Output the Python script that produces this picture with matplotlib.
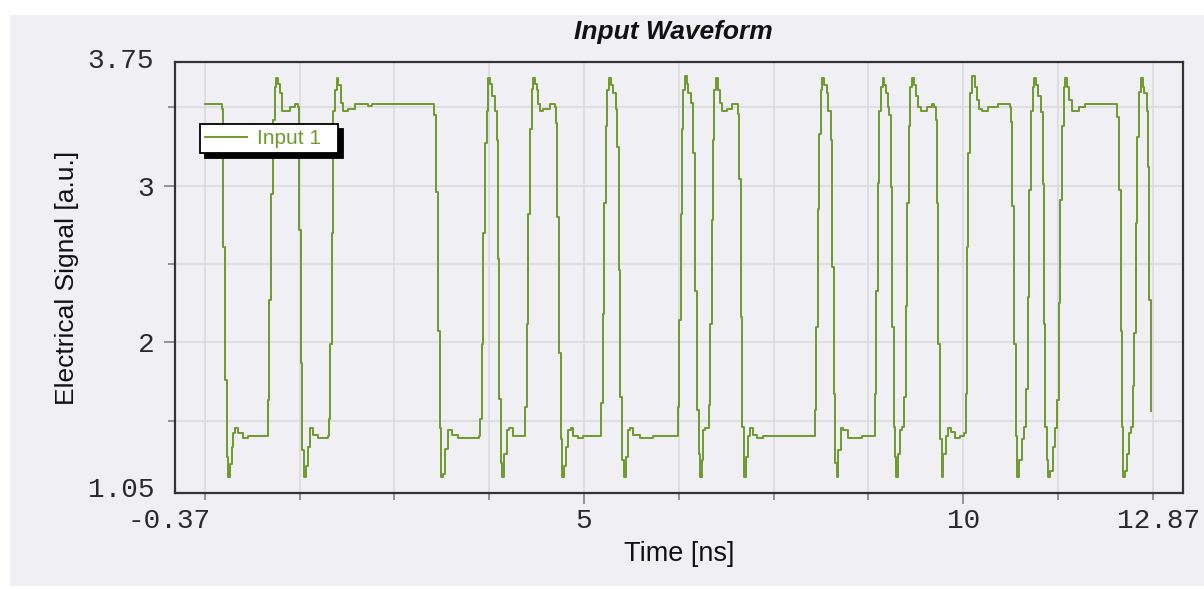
import matplotlib
matplotlib.use('Agg')
import matplotlib.pyplot as plt
import matplotlib.patches as mpatches
import matplotlib.transforms as mtrans

time_ns = [
    0.000, 0.211, 0.220, 0.242, 0.264, 0.286, 0.308, 0.330, 0.352, 0.374, 0.396, 0.440, 0.506, 0.572,
    0.827, 0.844, 0.871, 0.901, 0.923, 0.941, 0.967, 0.989, 1.020, 1.121, 1.187, 1.222,
    1.240, 1.266, 1.284, 1.310, 1.332, 1.354, 1.385, 1.429, 1.495, 1.618,
    1.636, 1.649, 1.671, 1.693, 1.715, 1.737, 1.759, 1.790, 1.825, 1.891, 1.979, 2.155, 2.199,
    3.017, 3.043, 3.069, 3.100, 3.113, 3.135, 3.166, 3.201, 3.254, 3.342, 3.615,
    3.632, 3.650, 3.672, 3.694, 3.716, 3.738, 3.760, 3.791, 3.826,
    3.848, 3.861, 3.879, 3.905, 3.923, 3.949, 3.980, 4.011, 4.068,
    4.222, 4.244, 4.265, 4.288, 4.310, 4.332, 4.354, 4.376, 4.398, 4.420, 4.464, 4.552, 4.617,
    4.631, 4.648, 4.670, 4.692, 4.714, 4.736, 4.763, 4.793, 4.824, 4.859, 4.925, 4.991,
    5.229, 5.246, 5.264, 5.290, 5.308, 5.334, 5.356, 5.387, 5.418,
    5.440, 5.457, 5.475, 5.501, 5.528, 5.554, 5.576, 5.607, 5.651, 5.739, 5.915,
    6.240, 6.253, 6.275, 6.297, 6.310, 6.332, 6.354, 6.376, 6.407, 6.434,
    6.442, 6.460, 6.486, 6.513, 6.530, 6.552, 6.574, 6.596,
    6.645, 6.662, 6.684, 6.697, 6.715, 6.741, 6.772, 6.794, 6.816, 6.882, 6.948,
    7.027, 7.049, 7.067, 7.089, 7.111, 7.133, 7.159, 7.190, 7.234, 7.278, 7.366,
    8.043, 8.061, 8.083, 8.100, 8.122, 8.144, 8.166, 8.201, 8.223,
    8.254, 8.272, 8.294, 8.311, 8.333, 8.355, 8.391, 8.421, 8.487, 8.663,
    8.839, 8.857, 8.874, 8.896, 8.918, 8.940, 8.962, 8.984, 9.006,
    9.028, 9.046, 9.068, 9.085, 9.103, 9.120, 9.147, 9.173, 9.200,
    9.226, 9.244, 9.261, 9.283, 9.305, 9.327, 9.349, 9.376, 9.402, 9.446, 9.521, 9.587, 9.622,
    9.639, 9.657, 9.675, 9.697, 9.719, 9.741, 9.771, 9.807, 9.842, 9.894, 9.960, 10.018,
    10.035, 10.053, 10.070, 10.092, 10.123, 10.150, 10.180, 10.211, 10.246, 10.334, 10.466, 10.612,
    10.633, 10.651, 10.673, 10.695, 10.717, 10.739, 10.774, 10.809,
    10.831, 10.853, 10.871, 10.897, 10.915, 10.937, 10.959, 10.994, 11.025,
    11.047, 11.069, 11.086, 11.104, 11.126, 11.148, 11.179, 11.214,
    11.240, 11.258, 11.280, 11.302, 11.324, 11.346, 11.372, 11.398, 11.434, 11.522, 11.610,
    12.036, 12.058, 12.076, 12.093, 12.115, 12.137, 12.164, 12.190, 12.216,
    12.234, 12.252, 12.274, 12.296, 12.318, 12.340, 12.366, 12.392, 12.419,
    12.436, 12.454, 12.476,
]
signal = [
    3.52, 3.52, 3.49, 2.61, 1.76, 1.27, 1.14, 1.22, 1.33, 1.42, 1.45, 1.42, 1.39, 1.40,
    1.63, 2.27, 2.95, 3.42, 3.63, 3.69, 3.65, 3.59, 3.48, 3.50, 3.52, 3.50,
    2.72, 1.87, 1.31, 1.14, 1.21, 1.33, 1.45, 1.41, 1.39, 1.40,
    1.51, 1.99, 2.70, 3.48, 3.61, 3.69, 3.64, 3.53, 3.48, 3.49, 3.52, 3.51, 3.52,
    3.45, 2.96, 2.07, 1.45, 1.14, 1.16, 1.32, 1.44, 1.41, 1.39, 1.40,
    1.51, 1.99, 2.70, 3.27, 3.48, 3.69, 3.65, 3.57, 3.48,
    3.29, 2.53, 1.64, 1.23, 1.14, 1.29, 1.44, 1.45, 1.40,
    1.59, 2.12, 2.82, 3.36, 3.62, 3.69, 3.65, 3.61, 3.52, 3.48, 3.49, 3.52, 3.50,
    3.40, 2.80, 1.93, 1.38, 1.14, 1.21, 1.33, 1.44, 1.45, 1.40, 1.39, 1.40,
    1.61, 2.18, 2.89, 3.38, 3.61, 3.69, 3.64, 3.59, 3.49,
    3.25, 2.46, 1.65, 1.25, 1.14, 1.27, 1.44, 1.45, 1.41, 1.39, 1.40,
    1.59, 2.14, 2.82, 3.36, 3.61, 3.70, 3.65, 3.59, 3.53, 3.48,
    3.21, 2.33, 1.57, 1.29, 1.14, 1.25, 1.44, 1.45,
    1.60, 2.12, 2.78, 3.29, 3.61, 3.69, 3.61, 3.53, 3.48, 3.49, 3.52,
    3.46, 3.04, 2.16, 1.46, 1.14, 1.27, 1.40, 1.45, 1.41, 1.39, 1.40,
    1.57, 2.10, 2.85, 3.33, 3.61, 3.69, 3.64, 3.59, 3.48,
    3.29, 2.48, 1.67, 1.23, 1.14, 1.31, 1.45, 1.44, 1.39, 1.40,
    1.67, 2.33, 3.02, 3.48, 3.63, 3.69, 3.64, 3.59, 3.50,
    3.45, 2.99, 2.10, 1.46, 1.27, 1.14, 1.29, 1.44, 1.46,
    1.65, 2.23, 2.89, 3.38, 3.63, 3.69, 3.64, 3.57, 3.50, 3.48, 3.50, 3.52, 3.50,
    3.42, 2.89, 1.99, 1.38, 1.14, 1.29, 1.40, 1.45, 1.43, 1.39, 1.40, 1.42,
    1.67, 2.61, 3.21, 3.59, 3.70, 3.63, 3.55, 3.49, 3.48, 3.50, 3.52, 3.50,
    3.41, 2.87, 1.99, 1.40, 1.14, 1.25, 1.38, 1.46,
    1.70, 2.29, 2.97, 3.48, 3.63, 3.69, 3.64, 3.57, 3.47,
    3.01, 2.12, 1.46, 1.25, 1.14, 1.18, 1.33, 1.45,
    1.63, 2.25, 2.91, 3.38, 3.63, 3.69, 3.63, 3.55, 3.48, 3.50, 3.52,
    3.44, 2.97, 2.07, 1.46, 1.14, 1.18, 1.29, 1.42, 1.46,
    1.72, 2.06, 2.76, 3.31, 3.60, 3.69, 3.63, 3.59, 3.48,
    3.12, 2.27, 1.56,
]
series_name = 'Input 1'

x_major = [-0.37, 5, 10, 12.87]
x_labels = ['-0.37', '5', '10', '12.87']
x_minor = [0, 1.25, 2.5, 3.75, 6.25, 7.5, 8.75, 11.25, 12.5]
y_major = [1.05, 2, 3, 3.75]
y_labels = ['1.05', '2', '3', '3.75']
y_minor = [1.5, 2.5, 3.5]

line_color = '#6e9a2e'
panel_color = '#f0eff3'
W, H = 1204, 589

fig = plt.figure(figsize=(W / 100, H / 100), dpi=100, facecolor='white')
fig.add_artist(mpatches.Rectangle((10 / W, 3 / H), (W - 10) / W, (H - 18) / H,
                                  transform=fig.transFigure, facecolor=panel_color,
                                  edgecolor='none', zorder=-5))

ax = fig.add_axes([175 / W, 96 / H, 1008 / W, 431 / H])
ax.set_facecolor(panel_color)
ax.plot(time_ns, signal, color=line_color, lw=1.4, drawstyle='steps-post', label=series_name, zorder=3)

ax.set_xlim(-0.395, 12.90)
ax.set_ylim(1.038, 3.79)

ax.set_xticks(x_major)
ax.set_xticklabels(x_labels)
ax.set_xticks(x_minor, minor=True)
ax.set_yticks(y_major)
ax.set_yticklabels(y_labels)
ax.set_yticks(y_minor, minor=True)

ax.tick_params(axis='both', which='major', length=8, width=1.3, color='#8c8c8c',
               labelsize=20, labelcolor='#2a2a2a')
ax.tick_params(axis='both', which='minor', length=5, width=1.3, color='#8c8c8c')
ax.tick_params(axis='x', which='major', pad=3)
ax.tick_params(axis='y', which='major', pad=7)
for lbl in ax.get_xticklabels() + ax.get_yticklabels():
    lbl.set_fontfamily('Liberation Mono')

ax.grid(True, which='both', color='#d9d8dc', lw=1.1, zorder=1)
ax.set_axisbelow(True)

# end labels sit on the frame: no tick mark, no grid line, nudged
xt = ax.xaxis.get_major_ticks()
yt = ax.yaxis.get_major_ticks()
for t in [xt[0], xt[-1], yt[0], yt[-1]]:
    t.tick1line.set_visible(False)
    t.gridline.set_visible(False)

def nudge(lbl, dx, dy):
    lbl.set_transform(lbl.get_transform() + mtrans.ScaledTranslation(dx / 100, dy / 100, fig.dpi_scale_trans))

xl = ax.get_xticklabels()
yl = ax.get_yticklabels()
nudge(xl[0], -8, 0)
nudge(xl[-1], -22, 0)
nudge(yl[0], 0, 4)
nudge(yl[-1], 0, 10)

for s in ax.spines.values():
    s.set_color('#333333')
    s.set_linewidth(1.6)

ax.set_xlabel('Time [ns]', fontsize=19.5, family='Liberation Sans', color='#111111', labelpad=5)
ax.set_ylabel('Electrical Signal [a.u.]', fontsize=19, family='Liberation Sans', color='#111111', labelpad=6)
fig.text(673 / W, 1 - 32 / H, 'Input Waveform', ha='center', va='center', fontsize=19,
         family='Liberation Sans', weight='bold', style='italic', color='#111111')

leg_top = (493 - 124) / 431
leg = ax.legend(loc='upper left', bbox_to_anchor=(25 / 1008, leg_top - 0.01, 138 / 1008, 0.01),
                mode='expand', borderaxespad=0,
                fancybox=False, framealpha=1, facecolor='white', edgecolor='black',
                prop={'family': 'Liberation Sans', 'size': 15}, handlelength=2.0,
                handletextpad=0.5, borderpad=0.25, labelcolor=line_color)
leg.get_frame().set_linewidth(1.3)
leg.set_zorder(6)
shadow = mpatches.Shadow(leg.legendPatch, 3.6, -3.6, color='black', alpha=1, zorder=5.5)
ax.add_artist(shadow)

fig.canvas.draw()
fig.savefig('out.png', dpi=100, facecolor='white')
